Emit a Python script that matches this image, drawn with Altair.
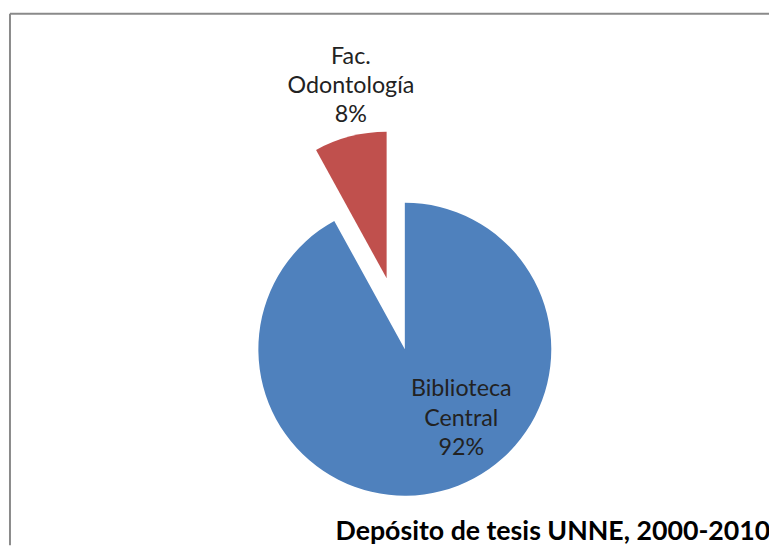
import altair as alt
import pandas as pd

# ---- data ----
categories = ["Biblioteca Central", "Fac. Odontología"]
values = [92, 8]
colors = ["#4F81BD", "#C0504D"]
title_text = "Depósito de tesis UNNE, 2000-2010"

# ---- layout / style (not data) ----
W, H = 769, 540
CX, CY = 401, 342          # pie centre inside the view
R = 148                    # pie radius
EXPLODE = {"Fac. Odontología": 74}
# label placement relative to each slice's centre: (radius px, angle deg clockwise from 12 o'clock)
LABEL_POS = {"Biblioteca Central": (90, 140.7), "Fac. Odontología": (198, 349.5)}
FONT = "Lato"

df = pd.DataFrame({"cat": categories, "value": values, "idx": list(range(len(categories)))})


def case_expr(mapping, default="0"):
    expr = default
    for k, v in mapping.items():
        expr = f"(datum.cat == '{k}' ? {v} : {expr})"
    return expr


ex_expr = case_expr(EXPLODE)
lr_expr = case_expr({k: v[0] for k, v in LABEL_POS.items()})
la_expr = case_expr({k: v[1] for k, v in LABEL_POS.items()})

base = (
    alt.Chart(df)
    .transform_joinaggregate(total="sum(value)")
    .transform_window(cum="sum(value)", sort=[alt.SortField("idx")], frame=[None, 0])
    .transform_calculate(
        t1="datum.cum / datum.total * 2 * PI",
        t0="(datum.cum - datum.value) / datum.total * 2 * PI",
    )
    .transform_calculate(mid="(datum.t0 + datum.t1) / 2", ex=ex_expr,
                         lr=lr_expr, la=la_expr)
    .transform_calculate(
        px=f"{CX} + datum.ex * sin(datum.mid)",
        py=f"{CY} - datum.ex * cos(datum.mid)",
    )
    .transform_calculate(
        lx="datum.px + datum.lr * sin(datum.la * PI / 180)",
        ly="datum.py - datum.lr * cos(datum.la * PI / 180)",
        label="split(datum.cat + ' ' + format(datum.value / datum.total, '.0%'), ' ')",
    )
)

arcs = base.mark_arc(radius=R).encode(
    x=alt.X("px:Q", scale=None, axis=None),
    y=alt.Y("py:Q", scale=None, axis=None),
    theta=alt.Theta("t0:Q", scale=None, stack=None),
    theta2="t1:Q",
    color=alt.Color("cat:N", scale=alt.Scale(domain=categories, range=colors), legend=None),
)

labels = base.mark_text(
    font=FONT, fontSize=23.5, lineHeight=29.5, align="center", baseline="middle",
    color="#222222", dy=-29
).encode(
    x=alt.X("lx:Q", scale=None, axis=None),
    y=alt.Y("ly:Q", scale=None, axis=None),
    text=alt.Text("label:N"),
)

title = alt.Chart(pd.DataFrame({"t": [title_text]})).mark_text(
    font=FONT, fontSize=27, fontWeight="bold", align="left", baseline="alphabetic", color="#000000"
).encode(x=alt.value(331), y=alt.value(535), text="t:N")

border_left = alt.Chart(pd.DataFrame({"a": [0]})).mark_rule(color="#8a8a8a", strokeWidth=2).encode(
    x=alt.value(2), y=alt.value(3), y2=alt.value(H)
)
border_top = alt.Chart(pd.DataFrame({"a": [0]})).mark_rule(color="#8a8a8a", strokeWidth=2).encode(
    x=alt.value(2), x2=alt.value(W), y=alt.value(3)
)

chart = (
    alt.layer(border_left, border_top, arcs, labels, title)
    .properties(width=W, height=H, autosize=alt.AutoSizeParams(type="none"), padding=0)
    .configure_view(stroke=None)
)

chart.save("out.html", embed_options={"renderer": "svg", "actions": False})
